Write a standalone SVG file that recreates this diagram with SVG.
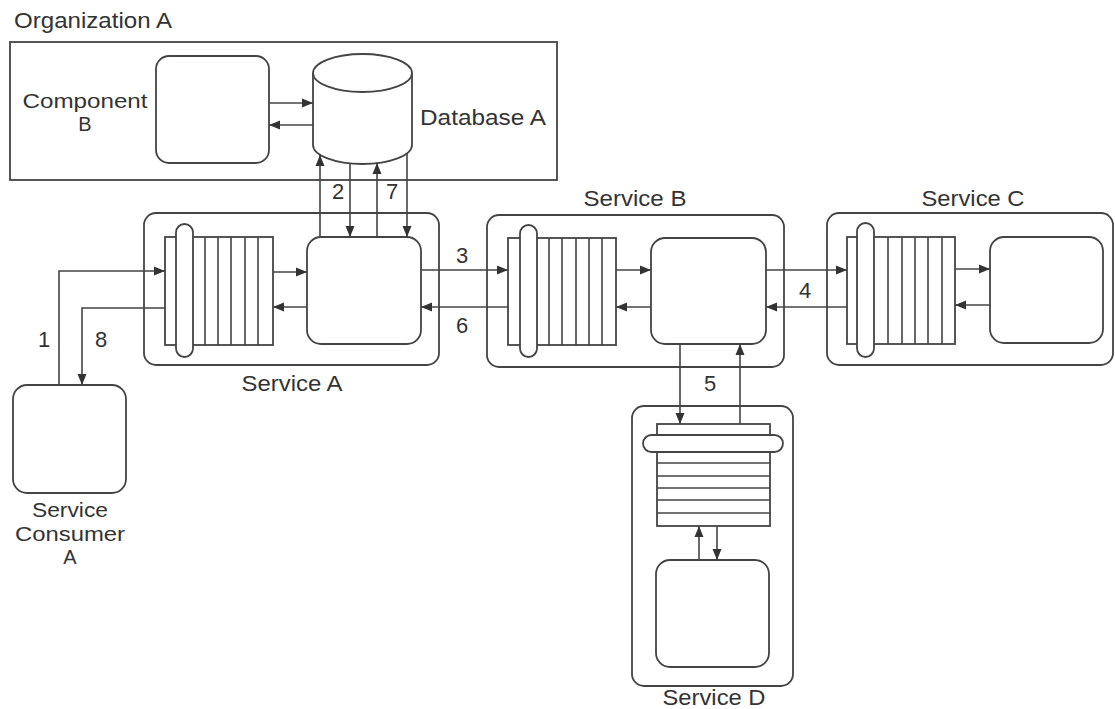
<svg xmlns="http://www.w3.org/2000/svg" width="1115" height="709" viewBox="0 0 1115 709">
<style>
.b{fill:#fff;stroke:#444;stroke-width:1.8}
.l{fill:none;stroke:#444;stroke-width:1.6}
.c{fill:none;stroke:#444;stroke-width:1.6}
text{font-family:"Liberation Sans",Arial,sans-serif;font-size:22px;fill:#333}
.m{text-anchor:middle}
.s{font-size:20px}
</style>
<defs>
<marker id="ah" markerUnits="userSpaceOnUse" markerWidth="12" markerHeight="10" refX="11" refY="5" orient="auto">
<path d="M0,0.5 L11,5 L0,9.5 Z" fill="#333"/>
</marker>
</defs>
<rect width="1115" height="709" fill="#fff"/>

<g id="orgA">
<text x="14" y="28" textLength="158" lengthAdjust="spacingAndGlyphs">Organization A</text>
<rect class="b" x="10" y="42" width="547" height="138"/>
</g>

<g id="componentB">
<rect class="b" x="156" y="56" width="113" height="107" rx="13"/>
<text class="m s" x="85" y="108" textLength="125" lengthAdjust="spacingAndGlyphs">Component</text>
<text class="m s" x="85" y="131">B</text>
</g>

<g id="databaseA">
<path class="b" d="M313,73 V145 A49.5,19 0 0 0 412,145 V73"/>
<ellipse class="b" cx="362.5" cy="73" rx="49.5" ry="19"/>
<text x="420" y="125" textLength="126" lengthAdjust="spacingAndGlyphs">Database A</text>
</g>

<g id="serviceA">
<rect class="b" x="144" y="213" width="295" height="152" rx="12"/>
<rect class="b" x="165" y="237" width="108" height="108"/>
<path class="l" d="M205,237V345M218,237V345M231,237V345M245,237V345M258,237V345"/>
<rect class="b" x="176" y="224" width="17" height="133" rx="8.5"/>
<rect class="b" x="307" y="237" width="114" height="107" rx="14"/>
<text class="m" x="292" y="391" textLength="101" lengthAdjust="spacingAndGlyphs">Service A</text>
</g>

<g id="serviceB">
<rect class="b" x="487" y="215" width="297" height="152" rx="12"/>
<rect class="b" x="508" y="238" width="108" height="107"/>
<path class="l" d="M549,238V345M562,238V345M576,238V345M589,238V345M602,238V345"/>
<rect class="b" x="520" y="225" width="17" height="132" rx="8.5"/>
<rect class="b" x="651" y="238" width="115" height="106" rx="14"/>
<text class="m" x="635" y="206" textLength="103" lengthAdjust="spacingAndGlyphs">Service B</text>
</g>

<g id="serviceC">
<rect class="b" x="827" y="213" width="286" height="152" rx="12"/>
<rect class="b" x="847" y="237" width="108" height="107"/>
<path class="l" d="M888,237V344M902,237V344M915,237V344M928,237V344M942,237V344"/>
<rect class="b" x="857" y="223" width="17" height="134" rx="8.5"/>
<rect class="b" x="990" y="237" width="113" height="106" rx="14"/>
<text class="m" x="973" y="206" textLength="103" lengthAdjust="spacingAndGlyphs">Service C</text>
</g>

<g id="serviceD">
<rect class="b" x="632" y="406" width="161" height="280" rx="12"/>
<rect class="b" x="657" y="424" width="113" height="102"/>
<path class="l" d="M657,463H770M657,476H770M657,488H770M657,500H770M657,513H770"/>
<rect class="b" x="643" y="435" width="140" height="17" rx="8.5"/>
<rect class="b" x="656" y="560" width="113" height="107" rx="14"/>
<text class="m" x="714" y="705" textLength="103" lengthAdjust="spacingAndGlyphs">Service D</text>
</g>

<g id="consumerA">
<rect class="b" x="13" y="385" width="113" height="108" rx="14"/>
<text class="m s" x="70" y="517" textLength="76" lengthAdjust="spacingAndGlyphs">Service</text>
<text class="m s" x="70" y="541" textLength="110" lengthAdjust="spacingAndGlyphs">Consumer</text>
<text class="m s" x="70" y="564">A</text>
</g>

<g id="connectors">
<path class="c" d="M269,103H313" marker-end="url(#ah)"/>
<path class="c" d="M313,125H269" marker-end="url(#ah)"/>
<path class="c" d="M59,385V271H165" marker-end="url(#ah)"/>
<path class="c" d="M165,308H82V385" marker-end="url(#ah)"/>
<path class="c" d="M273,272H307" marker-end="url(#ah)"/>
<path class="c" d="M307,307H273" marker-end="url(#ah)"/>
<path class="c" d="M320,237V155" marker-end="url(#ah)"/>
<path class="c" d="M350,163V237" marker-end="url(#ah)"/>
<path class="c" d="M377,237V163" marker-end="url(#ah)"/>
<path class="c" d="M407,153V237" marker-end="url(#ah)"/>
<path class="c" d="M421,270H508" marker-end="url(#ah)"/>
<path class="c" d="M508,307H421" marker-end="url(#ah)"/>
<path class="c" d="M616,270H651" marker-end="url(#ah)"/>
<path class="c" d="M651,307H616" marker-end="url(#ah)"/>
<path class="c" d="M766,270H847" marker-end="url(#ah)"/>
<path class="c" d="M847,307H766" marker-end="url(#ah)"/>
<path class="c" d="M955,269H990" marker-end="url(#ah)"/>
<path class="c" d="M990,305H955" marker-end="url(#ah)"/>
<path class="c" d="M680,344V424" marker-end="url(#ah)"/>
<path class="c" d="M740,424V344" marker-end="url(#ah)"/>
<path class="c" d="M699,560V526" marker-end="url(#ah)"/>
<path class="c" d="M717,526V560" marker-end="url(#ah)"/>
<text class="m" x="44" y="347">1</text>
<text class="m" x="101" y="347">8</text>
<text class="m" x="338" y="199">2</text>
<text class="m" x="392" y="199">7</text>
<text class="m" x="462" y="263">3</text>
<text class="m" x="462" y="333">6</text>
<text class="m" x="805" y="298">4</text>
<text class="m" x="710" y="391">5</text>
</g>
</svg>
